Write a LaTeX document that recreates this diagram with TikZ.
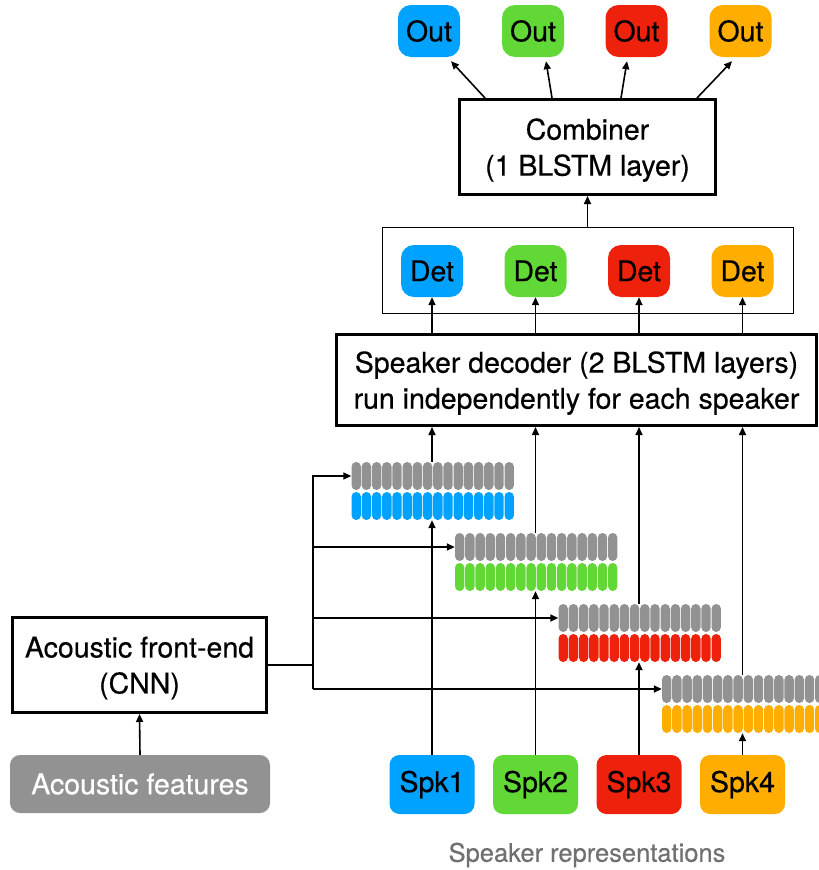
\documentclass[tikz,border=0pt]{standalone}
\usepackage{fontspec}
\setmainfont{TeX Gyre Heros}[FakeBold=0.45]
\usetikzlibrary{arrows.meta,calc}
\definecolor{kblue}{HTML}{00A2FF}
\definecolor{kgreen}{HTML}{61D836}
\definecolor{kred}{HTML}{EE220C}
\definecolor{korange}{HTML}{FFAE00}
\definecolor{kgray}{HTML}{929292}
\definecolor{capgray}{HTML}{707070}

\begin{document}
\begin{tikzpicture}[x=1pt,y=-1pt,
  every node/.style={font=\fontsize{28.5}{36}\selectfont, inner sep=0pt},
  conn/.style={line width=1.6pt, -{Triangle[length=8pt,width=7pt]}},
  wire/.style={line width=1.6pt},
  block/.style={draw, line width=3pt, align=center, text depth=-2pt},
  tag/.style={rounded corners=13pt, minimum width=62pt, minimum height=52pt},
  spkbox/.style={rounded corners=10pt, minimum width=85pt, minimum height=59pt},
  stackbox/.style={minimum width=161pt, minimum height=58pt}
]
\clip (0,0) rectangle (819,870);

% per-speaker embedding stacks (gray frames above coloured frames)
\foreach \i/\c in {0/kblue,1/kgreen,2/kred,3/korange} {
  \node[stackbox] (st\i) at ({432+103.5*\i},{491+71*\i}) {};
  \foreach \k in {0,...,15} {
    \fill[kgray, rounded corners=4.6pt]
      ({432+103.5*\i-80.5+10.2*\k},{491+71*\i-29}) rectangle +(9.4,28);
    \fill[\c, rounded corners=4.6pt]
      ({432+103.5*\i-80.5+10.2*\k},{491+71*\i+1}) rectangle +(9.4,28);
  }
  \coordinate (g\i) at ($(st\i.west)+(0,-15)$);
}

% acoustic branch
\node[fill=kgray, text=white, rounded corners=10pt, minimum width=260pt, minimum height=58pt]
  (feat) at (140,784) {Acoustic features};
\node[block, text depth=-6pt, minimum width=254pt, minimum height=95pt]
  (fe) at (139.5,665) {Acoustic front-end\\(CNN)};
\draw[conn] (feat.north) -- (fe.south);

% distribution of acoustic frames to every stack
\coordinate (tx) at (313,0);
\foreach \i in {0,...,3} { \coordinate (t\i) at (g\i -| tx); }
\draw[wire] (fe.east) -- (fe.east -| tx);
\draw[conn] (t3) -- (t0) -- (g0);
\foreach \i in {1,2,3} { \draw[conn] (t\i) -- (g\i); }

% speaker representations
\foreach \i/\c in {0/kblue,1/kgreen,2/kred,3/korange} {
  \pgfmathtruncatemacro{\n}{\i+1}
  \node[spkbox, fill=\c] (spk\i) at ({432+103.5*\i},784.5) {Spk\n};
  \draw[conn] (spk\i.north) -- (st\i.south);
}
\node[text=capgray, font=\fontsize{25.5}{30}\selectfont] (cap) at (587,855) {Speaker representations};

% speaker decoder
\node[block, minimum width=480pt, minimum height=91pt]
  (dec) at (576.5,380) {Speaker decoder (2 BLSTM layers)\\run independently for each speaker};
\foreach \i in {0,...,3} { \draw[conn] (st\i.north) -- (st\i.north |- dec.south); }

% detection heads
\node[draw, line width=1pt, minimum width=411pt, minimum height=86pt] (detframe) at (587.5,270) {};
\foreach \i/\c in {0/kblue,1/kgreen,2/kred,3/korange} {
  \node[tag, fill=\c] (det\i) at ({432+103.5*\i},271) {Det};
  \draw[conn] (dec.north -| det\i) -- (det\i.south);
}

% combiner and outputs
\node[block, minimum width=256pt, minimum height=95pt]
  (comb) at (587.5,147) {Combiner\\(1 BLSTM layer)};
\draw[conn] (detframe.north) -- (comb.south);

\node[tag, fill=kblue]   (out0) at (429,31) {Out};
\node[tag, fill=kgreen]  (out1) at (533,31) {Out};
\node[tag, fill=kred]    (out2) at (636.5,31) {Out};
\node[tag, fill=korange] (out3) at (740.5,31) {Out};
\draw[conn] ($(comb.north west)+(27,0)$)  -- ($(out0.south)+(22,4)$);
\draw[conn] ($(comb.north west)+(94,0)$)  -- ($(out1.south)+(13,4)$);
\draw[conn] ($(comb.north west)+(163,0)$) -- ($(out2.south)+(-9.5,4)$);
\draw[conn] ($(comb.north west)+(239,0)$) -- ($(out3.south)+(-8.5,4)$);
\end{tikzpicture}
\end{document}
